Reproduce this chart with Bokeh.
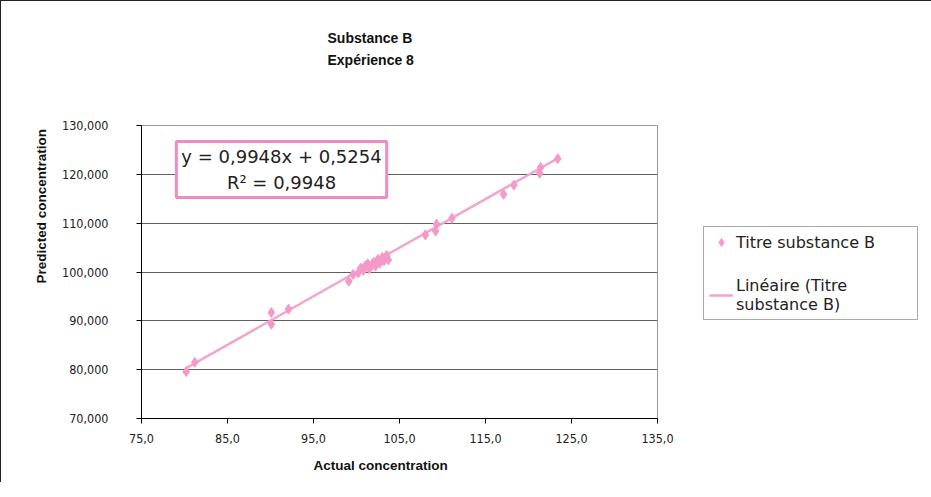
from bokeh.plotting import figure
from bokeh.models import Label, Legend, LegendItem, FixedTicker, Range1d, Title
from bokeh.embed import file_html
from bokeh.resources import INLINE

# ---- data ----
actual = [80.2, 81.2, 90.1, 90.1, 92.1, 99.1, 99.6, 100.2, 100.5, 100.8, 101.0, 101.3, 101.5,
          101.8, 102.0, 102.2, 102.5, 102.7, 103.0, 103.2, 103.5, 103.7,
          108.0, 109.2, 109.3, 111.1, 117.1, 118.3, 121.3, 121.4, 123.4]
predicted = [79.6, 81.5, 91.7, 89.3, 92.4, 98.1, 99.5, 99.8, 100.8, 100.3, 101.2, 101.7, 100.6,
             101.5, 102.0, 101.2, 102.6, 101.8, 103.0, 102.3, 103.4, 102.5,
             107.6, 108.4, 109.8, 111.0, 115.9, 117.8, 120.2, 121.4, 123.2]
slope = 0.9948
intercept = 0.5254
x_ticks = [75, 85, 95, 105, 115, 125, 135]
x_tick_labels = ["75,0", "85,0", "95,0", "105,0", "115,0", "125,0", "135,0"]
y_ticks = [70, 80, 90, 100, 110, 120, 130]
y_tick_labels = ["70,000", "80,000", "90,000", "100,000", "110,000", "120,000", "130,000"]
title_lines = ["Substance B", "Expérience 8"]
x_title = "Actual concentration"
y_title = "Predicted concentration"
equation_text = "y = 0,9948x + 0,5254\nR² = 0,9948"
series_name = "Titre substance B"
trend_name = "Linéaire (Titre\nsubstance B)"

PINK = "#F59AC8"
TICK_FONT = "DejaVu Sans Condensed, DejaVu Sans"
BOLD_FONT = "Liberation Sans"

p = figure(frame_width=516, frame_height=293, output_backend="svg", toolbar_location=None,
           x_range=Range1d(75, 135), y_range=Range1d(70, 130),
           min_border_left=140, min_border_top=124, min_border_bottom=60, min_border_right=262)
p.styles = {"border-left": "1px solid #222", "border-top": "1px solid #222"}
p.background_fill_color = "white"
p.border_fill_color = "white"
p.outline_line_color = "#9a9a9a"
p.xgrid.visible = False
p.ygrid.grid_line_color = "#5f5f5f"
p.ygrid.grid_line_width = 1.2

for ax in (p.xaxis[0], p.yaxis[0]):
    ax.axis_line_color = "black"
    ax.major_tick_line_color = "black"
    ax.minor_tick_line_color = None
    ax.major_tick_in = 0
    ax.major_tick_out = 5
    ax.major_label_text_font = TICK_FONT
    ax.major_label_text_font_size = "12.5px"
    ax.major_label_text_color = "#222222"

p.xaxis[0].ticker = FixedTicker(ticks=x_ticks)
p.xaxis[0].major_label_overrides = dict(zip(x_ticks, x_tick_labels))
p.yaxis[0].ticker = FixedTicker(ticks=y_ticks)
p.yaxis[0].major_label_overrides = dict(zip(y_ticks, y_tick_labels))
p.ygrid.ticker = FixedTicker(ticks=y_ticks)
p.xaxis[0].major_label_standoff = 10
p.yaxis[0].major_label_standoff = 28

# axis titles
p.add_layout(Title(text=x_title, align="left", offset=172, standoff=20,
                   text_font=BOLD_FONT, text_font_style="bold", text_font_size="13.5px",
                   text_color="#111111"), "below")
p.add_layout(Title(text=y_title, align="left", offset=135, standoff=22,
                   text_font=BOLD_FONT, text_font_style="bold", text_font_size="13.5px",
                   text_color="#111111"), "left")

# chart title: spacer nearest to the frame, the two lines, then a small top spacer
p.title.visible = False
p.add_layout(Title(text=" ", standoff=38, text_font_size="14px"), "above")
p.add_layout(Title(text=title_lines[1], align="left", offset=186, standoff=4,
                   text_font=BOLD_FONT, text_font_style="bold", text_font_size="14px",
                   text_color="#111111"), "above")
p.add_layout(Title(text=title_lines[0], align="left", offset=186, standoff=4,
                   text_font=BOLD_FONT, text_font_style="bold", text_font_size="14px",
                   text_color="#111111"), "above")
p.add_layout(Title(text=" ", standoff=5, text_font_size="2px"), "above")

# trendline over data range
x0, x1 = min(actual), max(actual)
trend = p.line([x0, x1], [slope * x0 + intercept, slope * x1 + intercept],
               line_color="#F2A6CE", line_width=2.5)
pts = p.scatter(actual, predicted, marker="diamond", size=10, fill_color=PINK,
                line_color=PINK)

legend = Legend(items=[LegendItem(label=series_name, renderers=[pts]),
                       LegendItem(label=trend_name, renderers=[trend])],
                location=(46, 98), orientation="vertical")
legend.border_line_color = "#555555"
legend.border_line_width = 1
legend.label_text_font = "DejaVu Sans"
legend.label_text_font_size = "16px"
legend.label_text_color = "#222222"
legend.glyph_width = 24
legend.label_standoff = 3
legend.label_width = 176
legend.spacing = 24
legend.padding = 5
legend.margin = 0
p.add_layout(legend, "right")

# equation box
p.add_layout(Label(x=91.28, y=120.99, text=equation_text, text_align="center",
                   text_baseline="middle", text_font="DejaVu Sans", text_font_size="18px",
                   text_color="#222222", background_fill_color="white",
                   border_line_color="#F08CC0", border_line_width=3, padding=5))

open("out.html", "w").write(file_html(p, INLINE))
